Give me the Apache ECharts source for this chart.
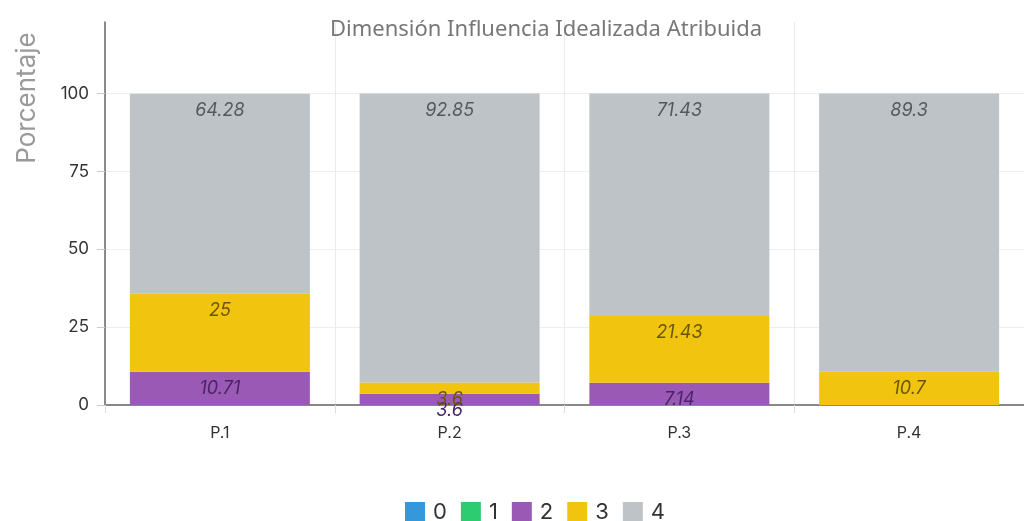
<!DOCTYPE html>
<html>
<head>
<meta charset="utf-8">
<script src="https://cdn.jsdelivr.net/npm/echarts@6/dist/echarts.min.js"></script>
<style>html,body{margin:0;padding:0;background:#fff}#c{width:1024px;height:521px}</style>
</head>
<body>
<div id="c"></div>
<script>
const categories = ['P.1', 'P.2', 'P.3', 'P.4'];
const seriesNames = ['0', '1', '2', '3', '4'];
const values0 = [0, 0, 0, 0];
const values1 = [0, 0, 0, 0];
const values2 = [10.71, 3.6, 7.14, 0];
const values3 = [25, 3.6, 21.43, 10.7];
const values4 = [64.28, 92.85, 71.43, 89.3];
const yTicks = [0, 25, 50, 75, 100];

const colors = ['#3498db', '#2ecc71', '#9b59b6', '#f1c40f', '#bdc3c7'];
const labelColors = ['#1a4d73', '#186b3c', '#4a2466', '#6b5608', '#55595c'];
const allValues = [values0, values1, values2, values3, values4];

const chart = echarts.init(document.getElementById('c'), null, {renderer: 'canvas'});
const font = 'Inter, "Noto Sans", sans-serif';

chart.setOption({
  animation: false,
  title: {
    text: 'Dimensión Influencia Idealizada Atribuida',
    left: 541, top: 14, textAlign: 'center',
    textStyle: {fontFamily: '"Noto Sans", sans-serif', fontSize: 22, fontWeight: 'normal', color: '#777'}
  },
  graphic: [{
    type: 'text', x: 27, y: 98, rotation: Math.PI / 2,
    style: {text: 'Porcentaje', font: '26px Inter, "Noto Sans", sans-serif', fill: '#9a9a9a', textAlign: 'center', textVerticalAlign: 'middle'}
  }],
  legend: {
    top: 496, left: 400,
    itemWidth: 20, itemHeight: 20, itemGap: 14,
    icon: 'rect',
    textStyle: {fontFamily: font, fontSize: 22, color: '#333', padding: [0, 0, 0, 3]},
    data: seriesNames
  },
  grid: {left: 105, right: -5, top: 22, bottom: 116, containLabel: false},
  xAxis: {
    type: 'category', data: categories,
    axisLine: {lineStyle: {color: '#888', width: 2}},
    axisTick: {show: true, length: 8, lineStyle: {color: '#ddd'}},
    splitLine: {show: true, lineStyle: {color: '#ebebeb', width: 1}},
    axisLabel: {fontFamily: font, fontSize: 16, color: '#333', margin: 20}
  },
  yAxis: {
    type: 'value', min: 0, max: 123, interval: 25,
    axisLine: {show: true, lineStyle: {color: '#666', width: 1.5}},
    axisTick: {show: true, length: 8, customValues: yTicks, lineStyle: {color: '#ccc'}},
    splitLine: {show: true, lineStyle: {color: ['#eeeeee', '#eeeeee', '#eeeeee', '#eeeeee', '#eeeeee', 'rgba(0,0,0,0)']}},
    axisLabel: {
      fontFamily: font, fontSize: 17, color: '#333', margin: 16,
      formatter: v => (yTicks.indexOf(v) >= 0 ? String(v) : '')
    }
  },
  series: seriesNames.map((n, i) => ({
    name: n, type: 'bar', stack: 'total', barWidth: 180,
    itemStyle: {color: colors[i]},
    data: allValues[i],
    label: {
      show: true, position: 'insideTop', distance: 8,
      fontFamily: font, fontSize: 18, fontStyle: 'italic', color: labelColors[i],
      formatter: p => (p.value === 0 ? '' : String(p.value))
    }
  }))
});
</script>
</body>
</html>
